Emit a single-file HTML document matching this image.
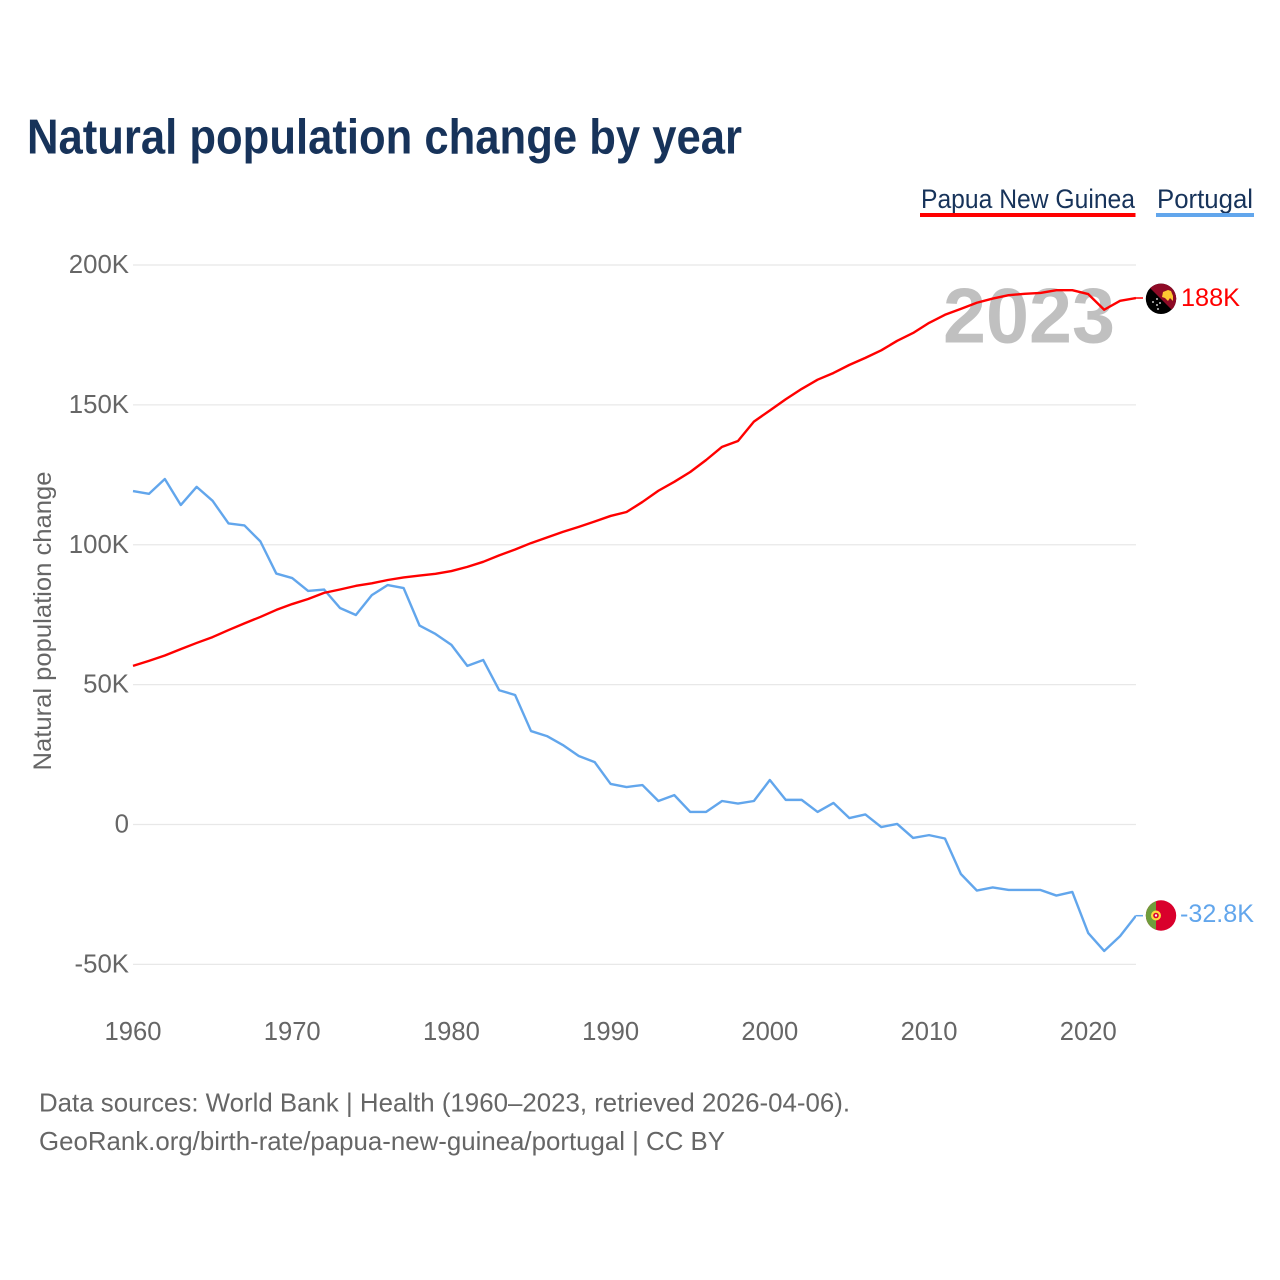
<!DOCTYPE html>
<html lang="en">
<head>
<meta charset="utf-8">
<title>Natural population change by year</title>
<style>
html,body{margin:0;padding:0;background:#fff;}
svg{display:block;font-family:"Liberation Sans",sans-serif;}
</style>
</head>
<body>
<svg id="chart" width="1280" height="1280" viewBox="0 0 1280 1280" xmlns="http://www.w3.org/2000/svg">
<defs>
<clipPath id="flag-clip-a"><circle cx="1161" cy="298.8" r="15.2"/></clipPath>
<clipPath id="flag-clip-b"><circle cx="1161" cy="915.5" r="15.2"/></clipPath>
<clipPath id="plot-clip"><rect x="120" y="240" width="1016" height="760"/></clipPath>
</defs>
<rect width="1280" height="1280" fill="#fff"/>
<text x="27" y="153.5" font-size="49" font-weight="700" fill="#17335a" textLength="715" lengthAdjust="spacingAndGlyphs">Natural population change by year</text>

<g>
<text x="921" y="208" font-size="26.5" fill="#17335a" textLength="214" lengthAdjust="spacingAndGlyphs">Papua New Guinea</text>
<rect x="920" y="213" width="215.5" height="4" fill="#ff0000"/>
<text x="1157" y="208" font-size="26.5" fill="#17335a" textLength="96" lengthAdjust="spacingAndGlyphs">Portugal</text>
<rect x="1156" y="213" width="98" height="4" fill="#62a6ec"/>
</g>

<g id="grid"></g>
<g id="y-labels"></g>
<g id="x-labels"></g>
<text transform="translate(51 621) rotate(-90)" text-anchor="middle" font-size="25" fill="#666" textLength="299" lengthAdjust="spacingAndGlyphs">Natural population change</text>

<text x="943" y="342.5" font-size="78" font-weight="700" fill="#c0c0c0" textLength="172" lengthAdjust="spacingAndGlyphs">2023</text>

<g id="series" clip-path="url(#plot-clip)"></g>
<g id="stubs"></g>

<g clip-path="url(#flag-clip-a)">
<rect x="1145" y="283" width="32" height="32" fill="#000"/>
<polygon points="1145,283 1177,283 1177,315" fill="#8e0a26"/>
<polygon points="1163,292 1168,290 1171,291 1173,296 1173,301 1170,298 1168,301 1165,298 1162,297" fill="#fcc832"/>
<circle cx="1153" cy="302" r="0.9" fill="#fff"/><circle cx="1157" cy="299" r="0.9" fill="#fff"/><circle cx="1157" cy="305" r="0.9" fill="#fff"/><circle cx="1160" cy="303" r="0.9" fill="#fff"/><circle cx="1158" cy="309" r="0.9" fill="#fff"/>
</g>
<g clip-path="url(#flag-clip-b)">
<rect x="1145" y="900" width="32" height="32" fill="#d9002c"/>
<rect x="1145" y="900" width="11" height="32" fill="#6f9d3c"/>
<circle cx="1156" cy="915.5" r="5" fill="#ffd93d"/>
<circle cx="1156" cy="915.5" r="2.8" fill="#d9002c"/>
<circle cx="1156" cy="915.5" r="1.2" fill="#f3f3f3"/>
</g>

<text id="value-a" x="1181" y="306" font-size="25" fill="#ff0000" textLength="59" lengthAdjust="spacingAndGlyphs">188K</text>
<text id="value-b" x="1180" y="922" font-size="25" fill="#62a6ec" textLength="74" lengthAdjust="spacingAndGlyphs">-32.8K</text>

<text x="39" y="1111.5" font-size="26" fill="#666" textLength="811" lengthAdjust="spacingAndGlyphs">Data sources: World Bank | Health (1960–2023, retrieved 2026-04-06).</text>
<text x="39" y="1150" font-size="26" fill="#666" textLength="686" lengthAdjust="spacingAndGlyphs">GeoRank.org/birth-rate/papua-new-guinea/portugal | CC BY</text>
</svg>
<script>
const startYear = 1960;
const papuaValues = [56.7,58.5,60.4,62.7,64.9,67,69.5,71.9,74.2,76.7,78.8,80.6,82.8,84,85.3,86.2,87.4,88.3,89,89.6,90.6,92.1,93.9,96.2,98.3,100.6,102.6,104.6,106.4,108.3,110.3,111.7,115.3,119.3,122.5,126,130.3,135,137.1,144,148,152,155.7,159,161.4,164.3,166.8,169.5,172.9,175.7,179.3,182.2,184.3,186.5,188,189.2,189.7,190,191,191,189.6,184,187.2,188.2];
const portugalValues = [119.2,118.2,123.5,114.2,120.7,115.7,107.6,106.9,101.2,89.7,88.1,83.5,84,77.4,74.9,82,85.6,84.5,71.1,68.1,64.2,56.7,58.8,48,46.3,33.4,31.6,28.4,24.5,22.3,14.5,13.4,14.1,8.4,10.5,4.5,4.5,8.4,7.5,8.4,15.9,8.8,8.8,4.5,7.7,2.3,3.6,-0.9,0.2,-4.8,-3.8,-5,-17.7,-23.6,-22.5,-23.4,-23.4,-23.4,-25.4,-24.1,-38.8,-45.2,-39.9,-32.6];
const yTicks = [200,150,100,50,0,-50];
const yTickLabels = ['200K','150K','100K','50K','0','-50K'];
const xTicks = [1960,1970,1980,1990,2000,2010,2020];

const NS = 'http://www.w3.org/2000/svg';
function xScale(year){ return 133 + (year - 1960) * (1136 - 133) / 63; }
function yScale(v){ return 824.5 - v * (824.5 - 265) / 200; }

const grid = document.getElementById('grid');
const yLabels = document.getElementById('y-labels');
const xLabels = document.getElementById('x-labels');
const series = document.getElementById('series');
const stubs = document.getElementById('stubs');

yTicks.forEach(function(t, i){
  const line = document.createElementNS(NS, 'line');
  
  
  line.setAttribute('x1', 133);
  line.setAttribute('x2', 1136);
  line.setAttribute('y1', yScale(t));
  line.setAttribute('y2', yScale(t));
  line.setAttribute('stroke', '#e8e8e8');
  line.setAttribute('stroke-width', 1.2);
  grid.appendChild(line);

  const label = document.createElementNS(NS, 'text');
  
  
  label.setAttribute('x', 129);
  label.setAttribute('y', yScale(t) + 8);
  label.setAttribute('text-anchor', 'end');
  label.setAttribute('font-size', 25.8);
  label.setAttribute('fill', '#666');
  label.textContent = yTickLabels[i];
  yLabels.appendChild(label);
});

xTicks.forEach(function(t){
  const label = document.createElementNS(NS, 'text');
  
  
  label.setAttribute('x', xScale(t));
  label.setAttribute('y', 1040);
  label.setAttribute('text-anchor', 'middle');
  label.setAttribute('font-size', 25.6);
  label.setAttribute('fill', '#666');
  label.textContent = String(t);
  xLabels.appendChild(label);
});

function pathFor(values){
  return values.map(function(v, i){
    return (i ? 'L' : 'M') + xScale(startYear + i).toFixed(2) + ' ' + yScale(v).toFixed(2);
  }).join(' ');
}

const bluePath = document.createElementNS(NS, 'path');


bluePath.setAttribute('d', pathFor(portugalValues));
bluePath.setAttribute('fill', 'none');
bluePath.setAttribute('stroke', '#62a6ec');
bluePath.setAttribute('stroke-width', 2.4);
bluePath.setAttribute('stroke-linejoin', 'round');
series.appendChild(bluePath);

const redPath = document.createElementNS(NS, 'path');


redPath.setAttribute('d', pathFor(papuaValues));
redPath.setAttribute('fill', 'none');
redPath.setAttribute('stroke', '#ff0000');
redPath.setAttribute('stroke-width', 2.4);
redPath.setAttribute('stroke-linejoin', 'round');
series.appendChild(redPath);

const redStub = document.createElementNS(NS, 'line');


redStub.setAttribute('x1', 1136);
redStub.setAttribute('x2', 1143);
redStub.setAttribute('y1', yScale(papuaValues[papuaValues.length - 1]));
redStub.setAttribute('y2', yScale(papuaValues[papuaValues.length - 1]));
redStub.setAttribute('stroke', '#ff0000');
redStub.setAttribute('stroke-width', 1.5);
stubs.appendChild(redStub);

const blueStub = document.createElementNS(NS, 'line');


blueStub.setAttribute('x1', 1136);
blueStub.setAttribute('x2', 1143);
blueStub.setAttribute('y1', yScale(portugalValues[portugalValues.length - 1]));
blueStub.setAttribute('y2', yScale(portugalValues[portugalValues.length - 1]));
blueStub.setAttribute('stroke', '#62a6ec');
blueStub.setAttribute('stroke-width', 1.5);
stubs.appendChild(blueStub);
</script>
</body>
</html>
